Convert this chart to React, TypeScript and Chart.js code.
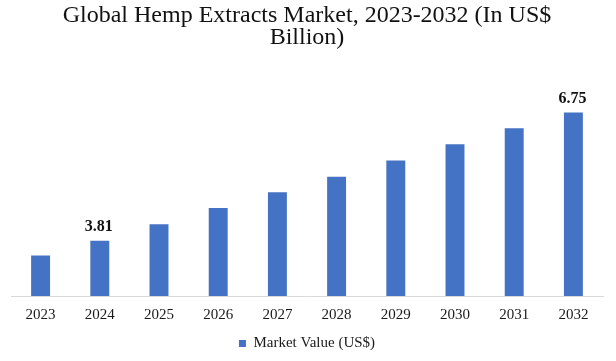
import React, { useEffect, useRef } from "react";
import { Chart, registerables } from "chart.js";

Chart.register(...registerables);

const years = ["2023", "2024", "2025", "2026", "2027", "2028", "2029", "2030", "2031", "2032"];
const marketValues = [3.47, 3.81, 4.19, 4.56, 4.92, 5.28, 5.65, 6.02, 6.39, 6.75];
const labeledIndexes = [1, 9];
const titleLines = ["Global Hemp Extracts Market, 2023-2032 (In US$", "Billion)"];
const seriesName = "Market Value (US$)";

const FONT = "'Liberation Serif', 'DejaVu Serif', serif";

const valueLabels = {
  id: "valueLabels",
  afterDatasetsDraw(chart: any) {
    const ctx = chart.ctx;
    const meta = chart.getDatasetMeta(0);
    ctx.save();
    ctx.font = `bold 16px ${FONT}`;
    ctx.fillStyle = "#111";
    ctx.textAlign = "center";
    ctx.textBaseline = "middle";
    labeledIndexes.forEach((i) => {
      const el = meta.data[i];
      ctx.fillText(marketValues[i].toFixed(2), el.x - 1, el.y - 13.5);
    });
    ctx.restore();
  },
};

export default function App() {
  const ref = useRef<HTMLCanvasElement>(null);
  useEffect(() => {
    const chart = new Chart(ref.current!, {
      type: "bar",
      data: {
        labels: years,
        datasets: [
          {
            label: seriesName,
            data: marketValues,
            backgroundColor: "#4472C4",
            categoryPercentage: 1,
            barPercentage: 0.32,
          },
        ],
      },
      options: {
        animation: false,
        responsive: false,
        maintainAspectRatio: false,
        layout: { padding: { left: 11, right: 13, top: 0, bottom: 0 } },
        plugins: {
          title: {
            display: true,
            text: titleLines,
            color: "#111",
            font: { family: FONT, size: 24, weight: "normal", lineHeight: 0.95 },
            padding: { top: 4, bottom: 20 },
          },
          legend: {
            display: true,
            position: "bottom",
            labels: {
              color: "#1a1a1a",
              font: { family: FONT, size: 15, lineHeight: 1.2 },
              boxWidth: 7,
              boxHeight: 7,
              padding: 4,
            },
          },
          tooltip: { enabled: false },
        },
        scales: {
          x: {
            grid: { display: false, drawTicks: false },
            border: { display: true, color: "#d9d9d9", width: 1 },
            ticks: { color: "#1a1a1a", font: { family: FONT, size: 15, lineHeight: 1.2 }, padding: 10 },
            afterFit: (scale: any) => {
              scale.height -= 2;
            },
          },
          y: {
            display: false,
            min: 2.544,
            max: 7.734,
          },
        },
      },
      plugins: [valueLabels],
    });
    return () => chart.destroy();
  }, []);
  return (
    <div style={{ position: "fixed", left: 0, top: 0, width: 616, height: 361, background: "#fff" }}>
      <canvas ref={ref} width={616} height={361} />
    </div>
  );
}
